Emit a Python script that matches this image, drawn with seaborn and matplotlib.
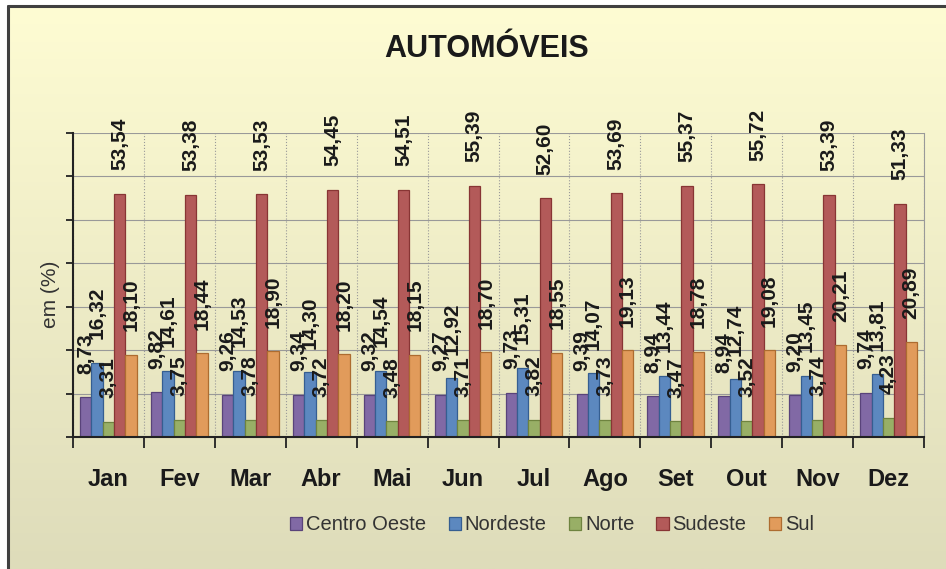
import matplotlib
matplotlib.use("Agg")
import matplotlib.pyplot as plt
import matplotlib.colors as mcolors
import seaborn as sns
import numpy as np
import pandas as pd

# data (percent share of car sales by region)
months = ["Jan", "Fev", "Mar", "Abr", "Mai", "Jun", "Jul", "Ago", "Set", "Out", "Nov", "Dez"]
regions = ["Centro Oeste", "Nordeste", "Norte", "Sudeste", "Sul"]
centro_oeste = [8.73, 9.82, 9.26, 9.34, 9.32, 9.27, 9.73, 9.39, 8.94, 8.94, 9.20, 9.74]
nordeste = [16.32, 14.61, 14.53, 14.30, 14.54, 12.92, 15.31, 14.07, 13.44, 12.74, 13.45, 13.81]
norte = [3.31, 3.75, 3.78, 3.72, 3.48, 3.71, 3.82, 3.73, 3.47, 3.52, 3.74, 4.23]
sudeste = [53.54, 53.38, 53.53, 54.45, 54.51, 55.39, 52.60, 53.69, 55.37, 55.72, 53.39, 51.33]
sul = [18.10, 18.44, 18.90, 18.20, 18.15, 18.70, 18.55, 19.13, 18.78, 19.08, 20.21, 20.89]
colors = ["#7F5FAF", "#4C86CF", "#9DBB5A", "#C24B4A", "#F79A45"]

series = [centro_oeste, nordeste, norte, sudeste, sul]
df = pd.DataFrame({
    "mes": months * len(regions),
    "regiao": np.repeat(regions, len(months)),
    "valor": np.concatenate(series),
})

sns.set_style("white")
plt.rcParams["font.family"] = ["Liberation Sans", "DejaVu Sans"]
text_col = "#1A1A1A"
grid_col = "#999999"

fig = plt.figure(figsize=(9.46, 5.69), dpi=100)

# background: framed panel with a yellow-to-khaki vertical gradient
bg = fig.add_axes([0, 0, 1, 1], zorder=-10)
top_c = np.array(mcolors.to_rgb("#FEFCD3"))
bot_c = np.array(mcolors.to_rgb("#DEDCBA"))
t = np.linspace(0, 1, 256)[:, None, None]
img = top_c * (1 - t) + bot_c * t
x0, y1 = 8 / 946, 1 - 6 / 569
bg.imshow(img, aspect="auto", extent=[x0, 1, 0, y1])
bg.plot([x0, x0], [0, y1], color="#404040", lw=2.2)
bg.plot([x0, 1], [y1, y1], color="#404040", lw=2.2)
bg.set_xlim(0, 1)
bg.set_ylim(0, 1)
bg.axis("off")

ax = fig.add_axes([73 / 946, 1 - 437 / 569, 851 / 946, 304 / 569])
ax.patch.set_alpha(0)

sns.barplot(data=df, x="mes", y="valor", hue="regiao", palette=colors,
            width=0.8, ax=ax, linewidth=0.9)

for cont, col, vals in zip(ax.containers, colors, series):
    edge = np.array(mcolors.to_rgb(col)) * 0.7
    for bar in cont:
        bar.set_edgecolor(edge)
    ax.bar_label(cont, labels=[f"{v:.2f}".replace(".", ",") for v in vals],
                 rotation=90, padding=17, fontsize=15, fontweight="bold",
                 color=text_col, clip_on=False)

ymax = 67
ax.set_ylim(0, ymax)
ax.set_xlim(-0.5, len(months) - 0.5)
ax.set_yticks(np.linspace(0, ymax, 8))
ax.set_yticklabels([])
ax.set_xticks(np.arange(-0.5, len(months), 1), minor=True)

ax.yaxis.grid(True, color=grid_col, lw=0.8)
ax.xaxis.grid(True, which="minor", color=grid_col, lw=0.8, ls=":")
ax.set_axisbelow(True)

for side in ["left", "bottom"]:
    ax.spines[side].set_color("#222222")
    ax.spines[side].set_linewidth(1.5)
ax.spines["top"].set_visible(False)
ax.spines["right"].set_color(grid_col)
ax.spines["right"].set_linewidth(0.8)

ax.tick_params(axis="y", left=True, length=5, width=1.3, color="#222222")
ax.tick_params(axis="x", which="major", length=0, pad=22, labelsize=17,
               labelcolor=text_col)
ax.tick_params(axis="x", which="minor", bottom=True, length=8, width=1.3,
               color="#222222")
for lab in ax.get_xticklabels():
    lab.set_fontweight("bold")

ax.set_xlabel("")
ax.set_ylabel("em (%)", fontsize=15, color="#333333")
ax.yaxis.set_label_coords(-0.015, 0.47)

fig.text(487 / 946, 1 - 49 / 569, "AUTOMÓVEIS", ha="center", va="center",
         fontsize=22, fontweight="bold", color=text_col)

handles, labels = ax.get_legend_handles_labels()
ax.legend_.remove()
for h, col in zip(handles, colors):
    h.set_edgecolor(np.array(mcolors.to_rgb(col)) * 0.7)
ax.legend(handles, labels, loc="center", bbox_to_anchor=(552 / 946, 1 - 525 / 569),
          bbox_transform=fig.transFigure, ncol=5, frameon=False, fontsize=14.5,
          handlelength=0.6, handleheight=0.6, handletextpad=0.2,
          columnspacing=1.1, labelcolor="#333333")

fig.savefig("out.png", dpi=100)
